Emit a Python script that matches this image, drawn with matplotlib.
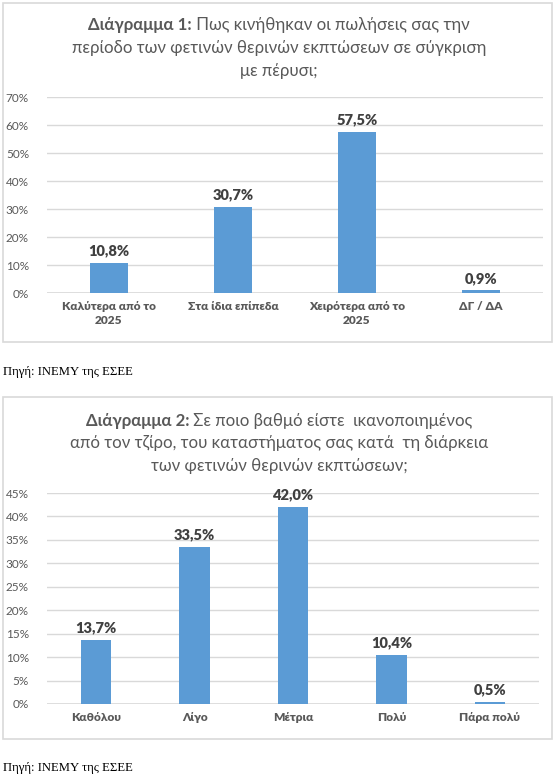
import matplotlib
matplotlib.use('Agg')
import matplotlib.pyplot as plt
from matplotlib.patches import Rectangle
from matplotlib.ticker import FuncFormatter, MultipleLocator

plt.rcParams['font.family'] = ['Lato', 'Open Sans', 'DejaVu Sans']

# chart 1 data
cats1 = ['Καλύτερα από το\n2025', 'Στα ίδια επίπεδα', 'Χειρότερα από το\n2025', 'ΔΓ / ΔΑ']
vals1 = [10.8, 30.7, 57.5, 0.9]
title1_bold = 'Διάγραμμα 1:'
title1_lines = [' Πως κινήθηκαν οι πωλήσεις σας την',
                'περίοδο των φετινών θερινών εκπτώσεων σε σύγκριση',
                'με πέρυσι;']

# chart 2 data
cats2 = ['Καθόλου', 'Λίγο', 'Μέτρια', 'Πολύ', 'Πάρα πολύ']
vals2 = [13.7, 33.5, 42.0, 10.4, 0.5]
title2_bold = 'Διάγραμμα 2:'
title2_lines = [' Σε ποιο βαθμό είστε  ικανοποιημένος',
                'από τον τζίρο, του καταστήματος σας κατά  τη διάρκεια',
                'των φετινών θερινών εκπτώσεων;']

source = 'Πηγή: ΙΝΕΜΥ της ΕΣΕΕ'

W, H = 553, 775
BLUE = '#5B9BD5'
GRID = '#D9D9D9'
TXT = '#595959'
DARK = '#404040'

fig = plt.figure(figsize=(W / 100, H / 100), dpi=100)


def px(x, y):
    return x / W, 1 - y / H


def box(y0, y1):
    fig.patches.append(Rectangle(px(3, y1), (W - 4) / W, (y1 - y0) / H,
                                 transform=fig.transFigure, fill=False,
                                 edgecolor=GRID, lw=1.2))


def title(bold, lines, cx, ys, size=12.1):
    r = fig.canvas.get_renderer()
    tb = fig.text(0, 0, bold, fontsize=size, fontweight='bold', color=TXT)
    tn = fig.text(0, 0, lines[0], fontsize=size, color=TXT)
    wb = tb.get_window_extent(r).width
    wn = tn.get_window_extent(r).width
    x0 = cx - (wb + wn) / 2
    tb.set_position(px(x0, ys[0]))
    tb.set_va('center')
    tn.set_position(px(x0 + wb, ys[0]))
    tn.set_va('center')
    for line, y in zip(lines[1:], ys[1:]):
        fig.text(*px(cx, y), line, fontsize=size, color=TXT,
                 ha='center', va='center')


def bars(ax, cats, vals, ymax, step):
    x = range(len(cats))
    ax.bar(x, vals, width=0.31, color=BLUE, zorder=3)
    for xi, v in zip(x, vals):
        ax.annotate(('%.1f%%' % v).replace('.', ','), (xi, v),
                    xytext=(0, 4), textcoords='offset points',
                    ha='center', va='bottom', fontsize=10.5,
                    fontweight='heavy', color=DARK)
    ax.set_xlim(-0.5, len(cats) - 0.5)
    ax.set_ylim(0, ymax)
    ax.yaxis.set_major_locator(MultipleLocator(step))
    ax.yaxis.set_major_formatter(FuncFormatter(lambda v, p: '%d%%' % round(v)))
    ax.set_xticks(list(x))
    ax.set_xticklabels(cats, fontsize=8.6, fontweight='heavy', color=TXT,
                       linespacing=1.3)
    ax.tick_params(axis='y', labelsize=8.5, labelcolor=TXT, length=0, pad=13)
    ax.tick_params(axis='x', length=0, pad=6)
    ax.grid(axis='y', color=GRID, lw=1, zorder=0)
    for s in ax.spines.values():
        s.set_visible(False)
    ax.axhline(0, color=GRID, lw=1.2, zorder=2)


# chart 1
box(3, 342)
title(title1_bold, title1_lines, 279, [25, 48, 71])
ax1 = fig.add_axes([47 / W, 1 - 293 / H, 496 / W, 196 / H])
bars(ax1, cats1, vals1, 70, 10)
fig.text(*px(3, 372), source, fontsize=9.2, family='Liberation Serif',
         va='center', color='black')

# chart 2
box(397, 739)
title(title2_bold, title2_lines, 279, [421, 443, 466])
ax2 = fig.add_axes([47 / W, 1 - 704 / H, 492 / W, 211 / H])
bars(ax2, cats2, vals2, 45, 5)
fig.text(*px(3, 768), source, fontsize=9.2, family='Liberation Serif',
         va='center', color='black')

fig.savefig('out.png', dpi=100)
